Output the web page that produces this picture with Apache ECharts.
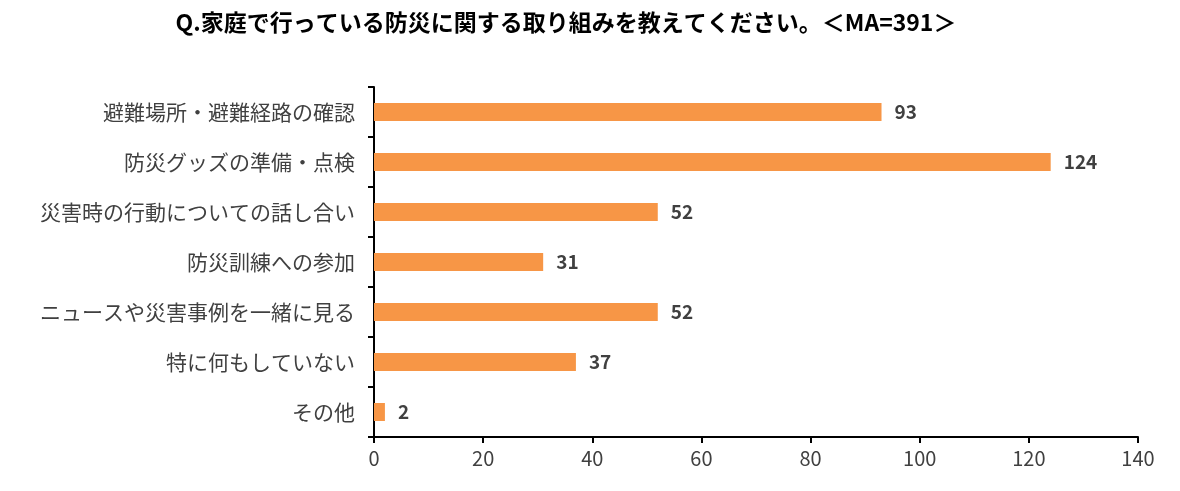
<!DOCTYPE html>
<html>
<head>
<meta charset="utf-8">
<script src="https://cdn.jsdelivr.net/npm/echarts@6/dist/echarts.min.js"></script>
<style>
  html, body { margin: 0; padding: 0; background: #fff; }
  #chart { width: 1180px; height: 491px; }
</style>
</head>
<body>
<div id="chart"></div>
<script>
const titleText = 'Q.家庭で行っている防災に関する取り組みを教えてください。＜MA=391＞';
const categories = [
    '避難場所・避難経路の確認',
    '防災グッズの準備・点検',
    '災害時の行動についての話し合い',
    '防災訓練への参加',
    'ニュースや災害事例を一緒に見る',
    '特に何もしていない',
    'その他',
];
const counts = [93, 124, 52, 31, 52, 37, 2];

const fontFamily = '"Noto Sans CJK JP", "Noto Sans", sans-serif';
const chart = echarts.init(document.getElementById('chart'));

chart.setOption({
    backgroundColor: '#fff',
    animation: false,
    title: {
        text: titleText,
        left: 561,
        top: 6,
        textAlign: 'center',
        textStyle: { fontFamily, fontSize: 23, fontWeight: 'bold', color: '#000' },
    },
    grid: { left: 374, right: 42, top: 87, bottom: 54, containLabel: false },
    xAxis: {
        type: 'value',
        min: 0,
        max: 140,
        interval: 20,
        axisLine: { show: true, lineStyle: { color: '#000', width: 2 } },
        axisTick: { show: true, length: 6, lineStyle: { color: '#000', width: 2 } },
        splitLine: { show: false },
        axisLabel: { fontFamily, fontSize: 20, color: '#404040', margin: 11 },
    },
    yAxis: {
        type: 'category',
        data: categories,
        inverse: true,
        axisLine: { show: true, lineStyle: { color: '#000', width: 2 } },
        axisTick: { show: true, length: 6, lineStyle: { color: '#000', width: 2 } },
        axisLabel: { fontFamily, fontSize: 21, color: '#404040', margin: 19 },
    },
    series: [{
        type: 'bar',
        data: counts,
        barWidth: 18,
        itemStyle: { color: '#F79646' },
        label: {
            show: true,
            position: 'right',
            distance: 13,
            fontFamily,
            fontSize: 19,
            fontWeight: 'bold',
            color: '#404040',
        },
    }],
});
</script>
</body>
</html>
